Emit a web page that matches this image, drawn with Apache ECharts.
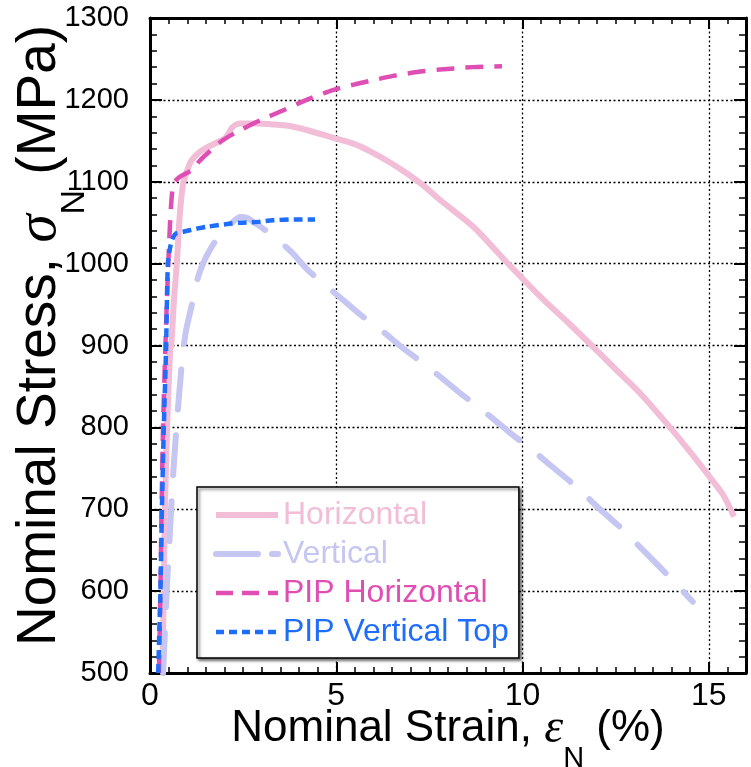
<!DOCTYPE html>
<html>
<head>
<meta charset="utf-8">
<script src="https://cdn.jsdelivr.net/npm/echarts@6/dist/echarts.min.js"></script>
<style>
html,body{margin:0;padding:0;background:#fff;}
#chart{width:751px;height:767px;}
</style>
</head>
<body>
<div id="chart"></div>
<script>
// ---- Data (strain in %, stress in MPa) ----
const horizStrain = [0.33,0.37,0.40,0.46,0.54,0.57,0.65,0.72,0.80,0.89,0.97,1.10,1.30,1.53,1.80,2.01,2.10,2.20,2.42,2.87,3.30,3.76,4.30,4.90,5.50,6.00,6.50,6.90,7.35,7.78,8.68,9.57,10.56,11.20,11.90,12.50,13.15,13.96,14.50,14.93,15.38,15.68];
const horizStress = [500,600,700,800,894,900,960,1000,1060,1098,1110,1125,1135,1142,1148,1153,1158,1166,1171,1171,1170,1168,1162,1154,1146,1135,1122,1110,1095,1078,1045,1002,956,929,898,871,842,800,770,745,718,691];

const vertStrain = [0.35,0.40,0.46,0.52,0.58,0.64,0.72,0.80,0.89,0.97,1.10,1.20,1.30,1.45,1.60,1.78,2.00,2.20,2.42,2.60,2.80,3.00,3.27,3.80,4.24,4.70,5.20,5.72,6.23,6.70,7.25,7.73,8.32,8.72,9.20,9.70,10.25,10.74,11.25,11.73,12.20,12.70,13.15,13.63,14.10,14.57];
const vertStress = [500,550,610,660,710,755,805,850,894,919,945,965,985,1003,1016,1029,1040,1050,1057,1056,1050,1044,1035,1014,992,974,955,935,918,900,881,864,842,828,811,792,773,754,735,715,695,675,654,632,610,587];

const pipHStrain = [0.24,0.28,0.31,0.35,0.40,0.45,0.50,0.55,0.59,0.63,0.80,1.00,1.13,1.34,1.60,1.96,2.30,2.68,3.10,3.57,4.00,4.37,4.91,5.50,5.98,6.50,7.17,7.78,8.67,9.45];
const pipHStress = [500,600,700,800,880,950,1010,1060,1085,1098,1106,1111,1114,1126,1137,1151,1160,1169,1178,1187,1196,1203,1212,1219,1224,1229,1234,1237,1240,1241];

const pipVStrain = [0.22,0.25,0.28,0.32,0.37,0.43,0.48,0.55,0.62,0.70,0.89,1.29,1.53,2.17,2.42,2.90,3.30,3.90,4.43];
const pipVStress = [500,550,600,700,800,894,1000,1022,1032,1037,1039,1043,1045,1049,1050,1051,1053,1054,1054];

const seriesNames = ['Horizontal','Vertical','PIP Horizontal','PIP Vertical Top'];
const xTicks = [0,5,10,15];
const yTicks = [500,600,700,800,900,1000,1100,1200,1300];

// ---- Styles ----
const COL = ['#f1bdd7','#c6c6f2','#df4fb3','#1f6dfc'];
const WID = [6, 6, 4.5, 4.5];
const DASH = ['solid', [40,26], [18,11], [9,5]];
const LEG_DASH = ['solid', [42,14], [17,9], [8,5]];
const FONT = 'Liberation Sans';

const pair = (xs, ys) => xs.map((x,i)=>[x, ys[i]]);

const chart = echarts.init(document.getElementById('chart'), null, {renderer:'canvas'});

const baseX = {
  type:'value', gridIndex:0, min:0, max:16,
  axisLine:{show:true, onZero:false, lineStyle:{color:'#000', width:3}},
  axisLabel:{show:false}, splitLine:{show:false}
};
const baseY = {
  type:'value', gridIndex:0, min:500, max:1300, interval:100,
  axisLine:{show:true, onZero:false, lineStyle:{color:'#000', width:3}},
  axisLabel:{show:false}, splitLine:{show:false}
};

const option = {
  backgroundColor:'#fff',
  animation:false,
  grid:{left:150, top:18, right:5, bottom:94, containLabel:false, outerBoundsMode:'none'},
  xAxis:[
    Object.assign({}, baseX, {
      position:'bottom', interval:5,
      axisTick:{show:true, inside:true, length:11, lineStyle:{color:'#000', width:2}},
      axisLabel:{show:true, color:'#000', fontSize:32, fontFamily:FONT, margin:7, showMaxLabel:false,
        formatter: v => xTicks.includes(v) ? String(v) : ''},
      splitLine:{show:true, lineStyle:{color:'#000', width:1.3, type:[2,2.5]}},
      name:'Nominal Strain, {e|ε}{n|N} (%)',
      nameLocation:'middle', nameGap:12, nameMoveOverlap:false,
      nameTextStyle:{color:'#000', fontSize:44, fontFamily:FONT, lineHeight:88, verticalAlign:'top',
        rich:{
          e:{fontFamily:'Liberation Serif', fontStyle:'italic', fontSize:48, color:'#000', lineHeight:88},
          n:{fontFamily:FONT, fontSize:29, lineHeight:29, verticalAlign:'bottom', color:'#000'}
        }}
    }),
    Object.assign({}, baseX, {
      position:'bottom', interval:0.5, axisLine:{show:false},
      axisTick:{show:true, inside:true, length:6, lineStyle:{color:'#000', width:1.5}}
    }),
    Object.assign({}, baseX, {
      position:'top', interval:5,
      axisTick:{show:true, inside:true, length:11, lineStyle:{color:'#000', width:2}}
    }),
    Object.assign({}, baseX, {
      position:'top', interval:0.5, axisLine:{show:false},
      axisTick:{show:true, inside:true, length:6, lineStyle:{color:'#000', width:1.5}}
    })
  ],
  yAxis:[
    Object.assign({}, baseY, {
      position:'left',
      axisTick:{show:true, inside:true, length:12, lineStyle:{color:'#000', width:2}},
      minorTick:{show:true, splitNumber:5, length:7, lineStyle:{color:'#000', width:1.5}},
      axisLabel:{show:true, color:'#000', fontSize:29, fontFamily:FONT, margin:21,
        formatter: v => yTicks.includes(v) ? String(v) : ''},
      splitLine:{show:true, lineStyle:{color:'#000', width:1.3, type:[2,2.5]}},
      name:'Nominal Stress, {s|σ}{n|N} (MPa)',
      nameLocation:'middle', nameGap:58, nameRotate:90, nameMoveOverlap:false,
      nameTextStyle:{color:'#000', fontSize:55, fontFamily:FONT, lineHeight:104, padding:[0,0,0,20],
        rich:{
          s:{fontFamily:'Liberation Serif', fontStyle:'italic', fontSize:57, color:'#000', lineHeight:104},
          n:{fontFamily:FONT, fontSize:34, lineHeight:34, verticalAlign:'bottom', color:'#000'}
        }}
    }),
    Object.assign({}, baseY, {
      position:'right',
      axisTick:{show:true, inside:true, length:12, lineStyle:{color:'#000', width:2}},
      minorTick:{show:true, splitNumber:5, length:7, lineStyle:{color:'#000', width:1.5}}
    })
  ],
  legend:{
    orient:'vertical', left:197, top:487,
    padding:[12,10,10,16], itemGap:7, itemWidth:62, itemHeight:14,
    backgroundColor:'#fff', borderColor:'#000', borderWidth:1.5, borderRadius:0,
    shadowColor:'rgba(0,0,0,0.55)', shadowBlur:3, shadowOffsetX:2, shadowOffsetY:2,
    textStyle:{fontSize:32, fontFamily:FONT},
    itemStyle:{opacity:0},
    data: seriesNames.map((n,i)=>({name:n, textStyle:{color:COL[i]},
      itemStyle:{opacity:0},
      lineStyle:{color:COL[i], width:WID[i], type:LEG_DASH[i], opacity:1}}))
  },
  series: seriesNames.map((n,i)=>({
    name:n, type:'line', symbol:'none', smooth:0.25, z:2+i,
    data: [pair(horizStrain,horizStress), pair(vertStrain,vertStress), pair(pipHStrain,pipHStress), pair(pipVStrain,pipVStress)][i],
    lineStyle:{color:COL[i], width:WID[i], type:DASH[i], cap: i===1 ? 'round' : 'butt'},
    itemStyle:{color:COL[i]}
  }))
};
chart.setOption(option);
</script>
</body>
</html>
